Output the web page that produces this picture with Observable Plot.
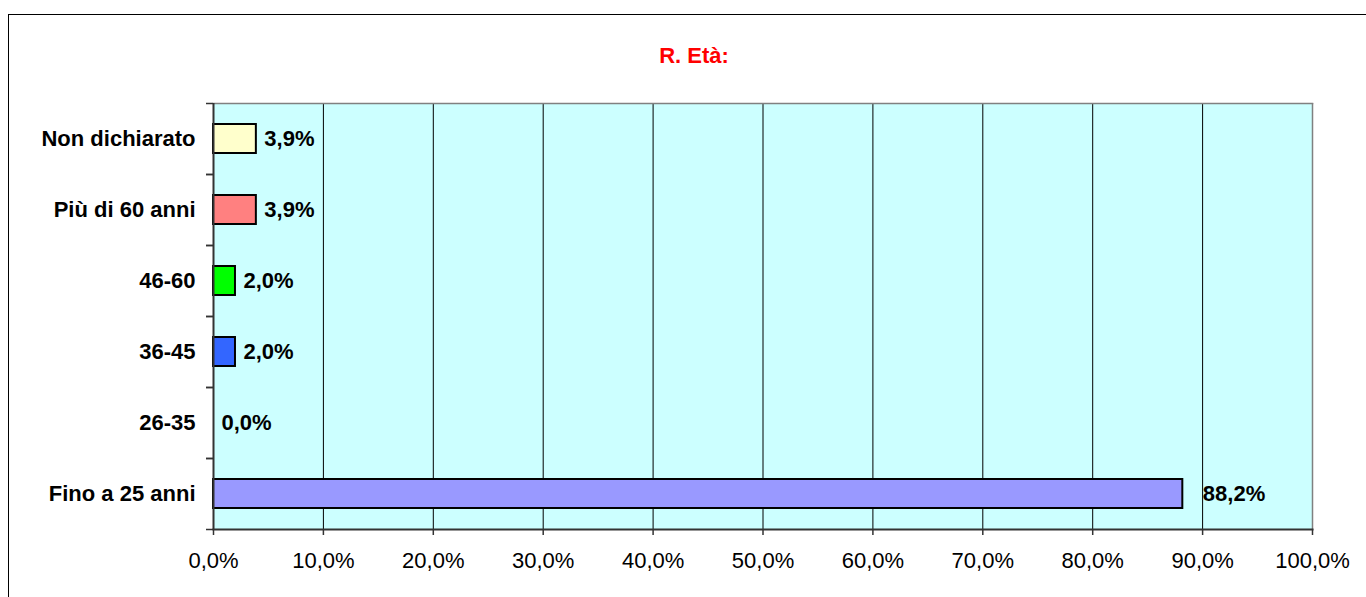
<!DOCTYPE html>
<html>
<head>
<meta charset="utf-8">
<script src="https://cdn.jsdelivr.net/npm/d3@7"></script>
<script src="https://cdn.jsdelivr.net/npm/@observablehq/plot@0.6"></script>
<style>
  html, body { margin: 0; padding: 0; background: #fff; }
  #wrap { position: relative; width: 1366px; height: 597px; overflow: hidden; font-family: "Liberation Sans", Arial, sans-serif; }
  #border { position: absolute; left: 8px; top: 14px; width: 1400px; height: 700px; border: 1.5px solid #000; box-sizing: border-box; }
  #title { position: absolute; left: 694px; top: 43px; transform: translateX(-50%); color: #FF0000; font-weight: bold; font-size: 22px; white-space: nowrap; }
  #chart { position: absolute; left: 0; top: 0; }
</style>
</head>
<body>
<div id="wrap">
  <div id="border"></div>
  <div id="title">R. Età:</div>
  <div id="chart"></div>
</div>
<script>
const categories = ["Non dichiarato", "Più di 60 anni", "46-60", "36-45", "26-35", "Fino a 25 anni"];
const values = [3.9, 3.9, 2.0, 2.0, 0.0, 88.2];
const colors = ["#FFFFCC", "#FF8080", "#00FF00", "#3366FF", "#FFFFFF", "#9999FF"];
const xTicks = [0, 10, 20, 30, 40, 50, 60, 70, 80, 90, 100];

const data = categories.map((c, i) => ({cat: c, value: values[i], color: colors[i]}));
const fmt = v => v.toFixed(1).replace(".", ",") + "%";

const plot = Plot.plot({
  width: 1366,
  height: 597,
  marginLeft: 213,
  marginRight: 54,
  marginTop: 103,
  marginBottom: 68,
  style: {fontFamily: '"Liberation Sans", Arial, sans-serif', background: "transparent", overflow: "visible"},
  x: {domain: [0, 100]},
  y: {domain: categories, padding: 0},
  marks: [
    Plot.frame({fill: "#CCFFFF", stroke: null}),
    Plot.ruleX(xTicks.filter(t => t > 0 && t < 100), {stroke: "#000", strokeWidth: 1}),
    Plot.ruleX([100], {stroke: "#808080", strokeWidth: 1.5}),
    Plot.frame({anchor: "top", stroke: "#808080", strokeWidth: 1.5}),
    Plot.barX(data.filter(d => d.value > 0), {
      x: "value", y: "cat", fill: "color",
      stroke: "#000", strokeWidth: 2, insetTop: 21, insetBottom: 21
    }),
    Plot.text(data.filter(d => d.value < 50), {
      x: "value", y: "cat", text: d => fmt(d.value),
      textAnchor: "start", dx: 8, fontWeight: "bold", fontSize: 22, fill: "#000"
    }),
    Plot.text(data.filter(d => d.value >= 50), {
      x: "value", y: "cat", text: d => fmt(d.value),
      textAnchor: "start", dx: 20, fontWeight: "bold", fontSize: 22, fill: "#000"
    }),
    Plot.axisY({tickSize: 0, tickPadding: 18, fontSize: 22, fontWeight: "bold", fill: "#000", label: null}),
    Plot.axisY({text: null, tickSize: 7, dy: -35.5, stroke: "#333", strokeWidth: 1.5, label: null}),
    Plot.axisY({text: null, tickSize: 7, dy: 35.5, stroke: "#333", strokeWidth: 1.5, label: null}),
    Plot.axisX({ticks: xTicks, tickFormat: fmt, tickSize: 6, tickPadding: 17, fontSize: 22, fill: "#000", stroke: "#333", strokeWidth: 1.5, label: null}),
    Plot.ruleX([0], {stroke: "#333", strokeWidth: 2}),
    Plot.frame({anchor: "bottom", stroke: "#333", strokeWidth: 2})
  ]
});
document.getElementById("chart").appendChild(plot);
</script>
</body>
</html>
